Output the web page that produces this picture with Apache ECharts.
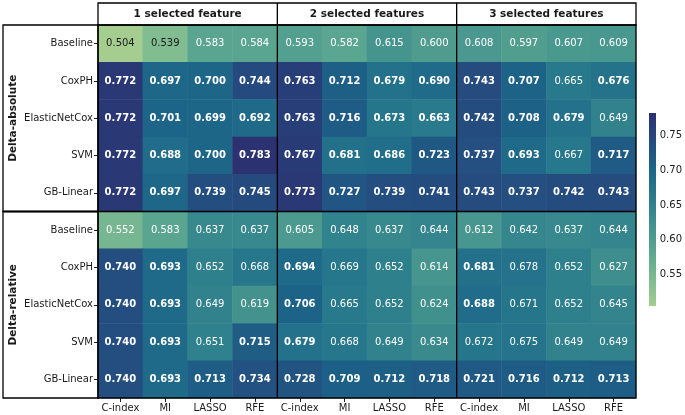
<!DOCTYPE html>
<html>
<head>
<meta charset="utf-8">
<script src="https://cdn.jsdelivr.net/npm/echarts@6/dist/echarts.min.js"></script>
<style>html,body{margin:0;padding:0;background:#fff}#c{width:685px;height:415px}</style>
</head>
<body>
<div id="c"></div>
<script>
const colLabels = ['C-index','MI','LASSO','RFE','C-index','MI','LASSO','RFE','C-index','MI','LASSO','RFE'];
const rowLabels = ['Baseline','CoxPH','ElasticNetCox','SVM','GB-Linear','Baseline','CoxPH','ElasticNetCox','SVM','GB-Linear'];
const groupLabels = ['1 selected feature','2 selected features','3 selected features'];
const blockLabels = ['Delta-absolute','Delta-relative'];
const values = [
  [0.504,0.539,0.583,0.584, 0.593,0.582,0.615,0.600, 0.608,0.597,0.607,0.609],
  [0.772,0.697,0.700,0.744, 0.763,0.712,0.679,0.690, 0.743,0.707,0.665,0.676],
  [0.772,0.701,0.699,0.692, 0.763,0.716,0.673,0.663, 0.742,0.708,0.679,0.649],
  [0.772,0.688,0.700,0.783, 0.767,0.681,0.686,0.723, 0.737,0.693,0.667,0.717],
  [0.772,0.697,0.739,0.745, 0.773,0.727,0.739,0.741, 0.743,0.737,0.742,0.743],
  [0.552,0.583,0.637,0.637, 0.605,0.648,0.637,0.644, 0.612,0.642,0.637,0.644],
  [0.740,0.693,0.652,0.668, 0.694,0.669,0.652,0.614, 0.681,0.678,0.652,0.627],
  [0.740,0.693,0.649,0.619, 0.706,0.665,0.652,0.624, 0.688,0.671,0.652,0.645],
  [0.740,0.693,0.651,0.715, 0.679,0.668,0.649,0.634, 0.672,0.675,0.649,0.649],
  [0.740,0.693,0.713,0.734, 0.728,0.709,0.712,0.718, 0.721,0.716,0.712,0.713]
];
const boldFlags = [
  [0,0,0,0, 0,0,0,0, 0,0,0,0],
  [1,1,1,1, 1,1,1,1, 1,1,0,1],
  [1,1,1,1, 1,1,1,1, 1,1,1,0],
  [1,1,1,1, 1,1,1,1, 1,1,0,1],
  [1,1,1,1, 1,1,1,1, 1,1,1,1],
  [0,0,0,0, 0,0,0,0, 0,0,0,0],
  [1,1,0,0, 1,0,0,0, 1,0,0,0],
  [1,1,0,0, 1,0,0,0, 1,0,0,0],
  [1,1,0,1, 1,0,0,0, 0,0,0,0],
  [1,1,1,1, 1,1,1,1, 1,1,1,1]
];
const colorbarTicks = [0.55, 0.60, 0.65, 0.70, 0.75];
const crest = ['#a5cd90','#7dba91','#59a590','#40908e','#287a8c','#1c6488','#254b7f','#2c3172'];

const allVals = values.flat();
const vMin = Math.min(...allVals), vMax = Math.max(...allVals);

const G = {left: 98, top: 25, width: 538, height: 373};
const CB = {left: 649, top: 113, width: 7, height: 193};
const nC = colLabels.length, nR = rowLabels.length;
const cw = G.width / nC, ch = G.height / nR;
const FONT = 'DejaVu Sans';

const data = [];
values.forEach((row, r) => row.forEach((v, c) => {
  data.push({
    value: [c, r, v],
    label: {
      fontWeight: boldFlags[r][c] ? 'bold' : 'normal',
      color: v < 0.545 ? '#1a1a1a' : '#ffffff'
    }
  });
}));

const graphics = [];
const LW = 1.3;
// header box
graphics.push({type:'rect', z:100, shape:{x:G.left, y:3, width:G.width, height:G.top-3}, style:{fill:'#fff', stroke:'#000', lineWidth:LW}});
groupLabels.forEach((t, i) => {
  graphics.push({type:'text', z:101, x: G.left + (i*4+2)*cw, y: (3+G.top)/2,
    style:{text:t, font:'bold 10.5px "DejaVu Sans"', fill:'#1a1a1a', align:'center', verticalAlign:'middle'}});
});
[4, 8].forEach(k => {
  graphics.push({type:'line', z:100, shape:{x1:G.left+k*cw, y1:3, x2:G.left+k*cw, y2:G.top+G.height}, style:{stroke:'#000', lineWidth:LW}});
});
// heatmap border
graphics.push({type:'rect', z:100, shape:{x:G.left, y:G.top, width:G.width, height:G.height}, style:{fill:null, stroke:'#000', lineWidth:LW}});
// left group boxes
blockLabels.forEach((t, i) => {
  graphics.push({type:'rect', z:100, shape:{x:3, y:G.top + i*5*ch, width:G.left-3, height:5*ch}, style:{fill:null, stroke:'#000', lineWidth:LW}});
  graphics.push({type:'text', z:101, x: 13, y: G.top + (i*5+2.5)*ch, rotation: Math.PI/2,
    style:{text:t, font:'bold 10.5px "DejaVu Sans"', fill:'#1a1a1a', align:'center', verticalAlign:'middle'}});
});
graphics.push({type:'line', z:100, shape:{x1:3, y1:G.top+5*ch, x2:G.left+G.width, y2:G.top+5*ch}, style:{stroke:'#000', lineWidth:LW}});
// colorbar
graphics.push({type:'rect', z:5, shape:{x:CB.left, y:CB.top, width:CB.width, height:CB.height},
  style:{fill: new echarts.graphic.LinearGradient(0, 1, 0, 0,
    crest.map((c, i) => ({offset: i/(crest.length-1), color: c})))}});

const chart = echarts.init(document.getElementById('c'));
chart.setOption({
  animation: false,
  backgroundColor: '#fff',
  textStyle: {fontFamily: FONT},
  grid: [
    {left: G.left, top: G.top, width: G.width, height: G.height},
    {left: CB.left, top: CB.top, width: CB.width, height: CB.height}
  ],
  xAxis: [
    {type:'category', data: colLabels, gridIndex:0, position:'bottom',
      axisLine:{show:false}, splitLine:{show:false},
      axisTick:{show:true, alignWithLabel:true, length:4, lineStyle:{color:'#222'}},
      axisLabel:{fontFamily:FONT, fontSize:10, color:'#1a1a1a', margin:5, interval:0}},
    {type:'value', gridIndex:1, show:false, min:0, max:1}
  ],
  yAxis: [
    {type:'category', data: rowLabels, gridIndex:0, inverse:true,
      axisLine:{show:false}, splitLine:{show:false},
      axisTick:{show:true, alignWithLabel:true, length:4, lineStyle:{color:'#222'}},
      axisLabel:{fontFamily:FONT, fontSize:10, color:'#1a1a1a', margin:5, interval:0}},
    {type:'value', gridIndex:1, min:vMin, max:vMax, position:'right',
      axisLine:{show:false}, splitLine:{show:false},
      axisTick:{show:true, length:3, customValues: colorbarTicks, lineStyle:{color:'#222'}},
      axisLabel:{fontFamily:FONT, fontSize:10, color:'#1a1a1a', margin:4, customValues: colorbarTicks,
        formatter: v => Number(v).toFixed(2)}}
  ],
  visualMap: {
    type:'continuous', min: vMin, max: vMax, seriesIndex: 0, show:false,
    inRange: {color: crest}
  },
  graphic: graphics,
  series: [{
    type:'heatmap', xAxisIndex:0, yAxisIndex:0, data: data,
    label:{show:true, fontFamily:FONT, fontSize:10, formatter: p => p.value[2].toFixed(3)},
    itemStyle:{borderWidth:0},
    emphasis:{disabled:true}
  }]
});
</script>
</body>
</html>
